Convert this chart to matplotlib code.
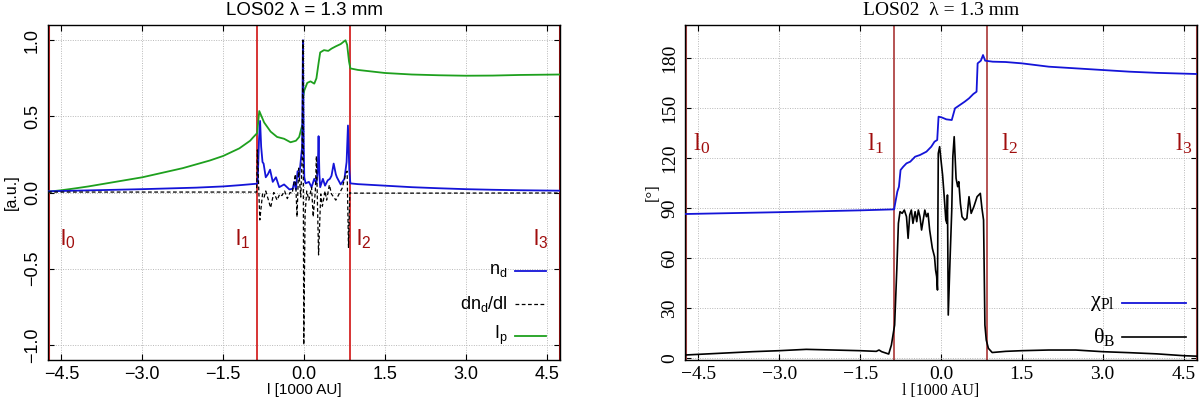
import matplotlib
matplotlib.use('Agg')
import matplotlib.pyplot as plt
from matplotlib.lines import Line2D

plt.rcParams['mathtext.default'] = 'regular'

# ---------------- data ----------------
x_limits = [-4.75, 4.75]
boundaries = [-4.75, -0.87, 0.85, 4.75]          # l0, l1, l2, l3
boundary_labels = ['l$_0$', 'l$_1$', 'l$_2$', 'l$_3$']
x_ticks = [-4.5, -3.0, -1.5, 0.0, 1.5, 3.0, 4.5]
x_tick_labels = ['\u22124.5', '\u22123.0', '\u22121.5', '0.0', '1.5', '3.0', '4.5']
left_yticks = [-1.0, -0.5, 0.0, 0.5, 1.0]
left_ytick_labels = ['\u22121.0', '\u22120.5', '0.0', '0.5', '1.0']
right_yticks = [0, 30, 60, 90, 120, 150, 180]
right_ytick_labels = ['0', '30', '60', '90', '120', '150', '180']

# n_d (blue)
nd_x = [-4.75, -4.0, -3.0, -2.0, -1.5, -1.2, -0.87, -0.86, -0.835, -0.815, -0.795, -0.77,
        -0.75, -0.71, -0.67, -0.63, -0.58, -0.52, -0.46, -0.37, -0.27, -0.21, -0.18,
        -0.15, -0.12, -0.09, -0.055, -0.035, -0.02, -0.005, 0.005, 0.03, 0.09, 0.14,
        0.19, 0.23, 0.255, 0.27, 0.285, 0.30, 0.35, 0.39, 0.44, 0.48, 0.51, 0.55,
        0.59, 0.61, 0.68, 0.75, 0.79, 0.815, 0.84, 0.86, 1.0, 1.5, 2.0, 2.5, 3.0,
        3.5, 4.0, 4.75]
nd_y = [0.008, 0.014, 0.022, 0.032, 0.040, 0.048, 0.058, 0.065, 0.35, 0.47, 0.30, 0.20,
        0.19, 0.10, 0.12, 0.15, 0.07, 0.10, 0.035, 0.053, 0.02, 0.025, 0.07,
        0.02, 0.14, 0.10, 0.23, 0.30, 1.0, 0.30, 0.10, 0.06, 0.07, 0.035,
        0.09, 0.06, 0.15, 0.37, 0.12, 0.035, 0.09, 0.045, 0.08, 0.09, 0.11, 0.19,
        0.12, 0.10, 0.053, 0.09, 0.20, 0.44, 0.15, 0.06, 0.055, 0.045, 0.035, 0.028, 0.022,
        0.018, 0.015, 0.012]

# dn_d/dl (black dashed)
dndl_x = [-4.75, -2.0, -0.88, -0.865, -0.82, -0.77, -0.74, -0.71, -0.66, -0.62, -0.56,
          -0.50, -0.45, -0.41, -0.36, -0.31, -0.26, -0.22, -0.16, -0.13, -0.10, -0.06,
          -0.035, -0.02, -0.005, 0.02, 0.05, 0.09, 0.14, 0.17, 0.21, 0.23, 0.27, 0.31,
          0.34, 0.39, 0.42, 0.47, 0.51, 0.55, 0.59, 0.65, 0.71, 0.77, 0.80, 0.825,
          0.85, 0.87, 2.0, 4.75]
dndl_y = [0.003, 0.003, 0.003, 0.28, -0.18, -0.01, -0.03, 0.01, -0.05, -0.10, 0.0,
          -0.05, -0.01, -0.02, 0.01, -0.04, 0.0, -0.005, 0.12, -0.16, 0.16, -0.03,
          0.23, 1.0, -1.0, -0.14, 0.01, -0.05, 0.035, -0.16, 0.01, 0.24, -0.41, -0.01,
          -0.09, 0.01, -0.05, 0.05, -0.01, -0.03, -0.05, -0.01, 0.03, 0.12, 0.14, -0.36,
          0.0, -0.004, -0.004, -0.003]

# I_p (green)
ip_x = [-4.75, -4.5, -4.25, -4.0, -3.75, -3.5, -3.25, -3.0, -2.75, -2.5, -2.25, -2.0,
        -1.75, -1.5, -1.35, -1.2, -1.1, -1.0, -0.95, -0.87, -0.83,
        -0.74, -0.62, -0.5, -0.37, -0.25, -0.15, -0.09, -0.05, -0.025, -0.015, 0.005,
        0.06, 0.12, 0.19, 0.23, 0.27, 0.30, 0.37, 0.45, 0.51, 0.59, 0.68, 0.77, 0.80,
        0.835, 0.86, 1.0, 1.5, 2.0, 2.5, 3.0, 3.5, 4.0, 4.75]
ip_y = [0.005, 0.015, 0.027, 0.04, 0.055, 0.07, 0.085, 0.10, 0.12, 0.14, 0.16, 0.185,
        0.21, 0.24, 0.265, 0.29, 0.315, 0.34, 0.36, 0.39, 0.535,
        0.46, 0.40, 0.365, 0.353, 0.33, 0.34, 0.365, 0.42, 0.45, 0.63, 0.67,
        0.72, 0.73, 0.715, 0.75, 0.85, 0.92, 0.935, 0.93, 0.945, 0.96, 0.975, 1.0, 0.97,
        0.86, 0.815, 0.805, 0.785, 0.775, 0.77, 0.767, 0.768, 0.772, 0.775]

# chi_Pl (blue, degrees)
chi_x = [-4.75, -3.0, -1.5, -0.87, -0.81, -0.78, -0.75, -0.70, -0.64, -0.57, -0.48,
         -0.39, -0.27, -0.18, -0.12, -0.07, -0.045, 0.01, 0.10, 0.20, 0.26, 0.35, 0.44,
         0.52, 0.60, 0.66, 0.68, 0.74, 0.78, 0.82, 0.96, 1.2, 1.5, 2.0, 2.5, 3.0, 3.5,
         4.0, 4.75]
chi_y = [86.6, 87.7, 88.8, 89.4, 100, 103, 113, 115, 117, 118, 121,
         122, 124, 127, 130, 131, 145, 144.6, 143.4, 143, 150, 152, 154,
         156, 158.6, 160, 177, 178.6, 182, 178.6, 178, 177.8, 177, 175, 174, 173, 172,
         171.3, 170.6]

# theta_B (black, degrees)
theta_x = [-4.75, -4.5, -4.0, -3.5, -3.0, -2.5, -2.0, -1.5, -1.2, -1.15, -1.1, -0.97,
           -0.92, -0.88, -0.86, -0.82, -0.79, -0.76, -0.72, -0.68, -0.64, -0.61, -0.58,
           -0.55, -0.52, -0.48, -0.45, -0.42, -0.39, -0.36, -0.30, -0.27, -0.24, -0.21,
           -0.16, -0.12, -0.10, -0.08, -0.065, -0.05, -0.025, 0.0, 0.03, 0.06, 0.09,
           0.11, 0.12, 0.135, 0.17, 0.20, 0.22, 0.245, 0.28, 0.31, 0.33, 0.36, 0.39,
           0.44, 0.48, 0.52, 0.56, 0.61, 0.67, 0.73, 0.76, 0.79, 0.815, 0.84, 0.88,
           0.95, 1.2, 1.5, 2.0, 2.5, 3.0, 3.5, 4.0, 4.5, 4.75]
theta_y = [2.0, 2.4, 3.2, 4.0, 4.6, 5.4, 5.0, 4.6, 4.2, 5.0, 4.0, 2.6,
           8, 16, 20, 53, 81, 88, 87, 89, 85, 72, 86,
           89, 81, 88, 82, 89, 85, 77, 89, 85, 87, 77,
           66, 61, 53, 49, 41, 123, 127, 119, 110, 97, 83,
           81, 98, 26, 61, 89, 121, 133, 108, 103, 106, 93, 85,
           83, 84, 97, 87, 91, 97, 99, 90, 83, 20, 11, 6,
           3.5, 4.2, 4.6, 5.0, 5.0, 4.0, 3.4, 2.7, 1.6, 1.3]

# ---------------- styling ----------------
BLUE = '#1414d8'
GREEN = '#1ea01e'
LABEL_RED = '#a00d0d'

fig = plt.figure(figsize=(12, 3.99), dpi=100)
axL = fig.add_axes([0.04, 0.0977, 0.4267, 0.8396])
axR = fig.add_axes([0.5708, 0.0977, 0.4267, 0.8396])


def style_axes(ax, family, tick_size, yticks, ytick_labels, ylim):
    ax.set_xlim(*x_limits)
    ax.set_ylim(*ylim)
    ax.set_xticks(x_ticks)
    ax.set_xticklabels(x_tick_labels, family=family, fontsize=tick_size)
    ax.set_yticks(yticks)
    ax.set_yticklabels(ytick_labels, family=family, fontsize=tick_size,
                       rotation=90, va='center', ha='right')
    ax.tick_params(direction='in', top=True, right=True, length=4, width=0.8,
                   colors='black')
    ax.tick_params(axis='x', pad=4)
    ax.tick_params(axis='y', pad=5)
    ax.grid(True, color='#b8b8b8', linestyle=(0, (1, 1.5)), linewidth=0.7)
    ax.set_axisbelow(True)
    for s in ax.spines.values():
        s.set_linewidth(1.0)
        s.set_color('black')


# ---------- left panel ----------
fL = 'Liberation Sans'
style_axes(axL, fL, 13, left_yticks, left_ytick_labels, (-1.1, 1.1))
for i, b in enumerate(boundaries):
    c = '#d42424' if i < 3 else '#9a1010'
    axL.axvline(b, color=c, lw=1.3 if i in (1, 2) else 2.2, zorder=1.5)
axL.plot(ip_x, ip_y, color=GREEN, lw=1.3, zorder=3)
axL.plot(nd_x, nd_y, color=BLUE, lw=1.3, zorder=4)
axL.plot(dndl_x, dndl_y, color='black', lw=0.9, ls=(0, (3, 2)), zorder=5)

lab_y_L = -0.345
axL.text(-4.52, lab_y_L, boundary_labels[0], color=LABEL_RED, fontsize=16, family=fL, ha='left', va='baseline')
axL.text(-1.01, lab_y_L, boundary_labels[1], color=LABEL_RED, fontsize=16, family=fL, ha='right', va='baseline')
axL.text(0.97, lab_y_L, boundary_labels[2], color=LABEL_RED, fontsize=16, family=fL, ha='left', va='baseline')
axL.text(4.53, lab_y_L, boundary_labels[3], color=LABEL_RED, fontsize=16, family=fL, ha='right', va='baseline')

axL.set_title('LOS02 \u03bb = 1.3 mm', family=fL, fontsize=13.5, pad=7)
axL.set_xlabel('l [1000 AU]', family=fL, fontsize=11, labelpad=0.5)
axL.set_ylabel('[a.u.]', family=fL, fontsize=11.5, labelpad=4)

legL = [('n$_d$', dict(color=BLUE, lw=1.3), 0.266),
        ('dn$_d$/dl', dict(color='black', lw=0.9, ls=(0, (3, 2))), 0.167),
        ('I$_p$', dict(color=GREEN, lw=1.3), 0.072)]
for txt, kw, yy in legL:
    axL.text(0.898, yy, txt, transform=axL.transAxes, ha='right', va='center',
             family=fL, fontsize=13)
    axL.add_line(Line2D([0.912, 0.973], [yy, yy], transform=axL.transAxes, **kw))

# ---------- right panel ----------
fR = 'Liberation Serif'
style_axes(axR, fR, 14, right_yticks, right_ytick_labels, (-1, 200))
for i, b in enumerate(boundaries):
    axR.axvline(b, color='#b04545', lw=1.3 if i in (1, 2) else 2.2, zorder=1.5)
axR.plot(chi_x, chi_y, color=BLUE, lw=1.3, zorder=4)
axR.plot(theta_x, theta_y, color='black', lw=1.2, zorder=3)

lab_y_R = 125
axR.text(-4.6, lab_y_R, boundary_labels[0], color=LABEL_RED, fontsize=18, family=fR, ha='left', va='baseline')
axR.text(-1.05, lab_y_R, boundary_labels[1], color=LABEL_RED, fontsize=18, family=fR, ha='right', va='baseline')
axR.text(1.12, lab_y_R, boundary_labels[2], color=LABEL_RED, fontsize=18, family=fR, ha='left', va='baseline')
axR.text(4.66, lab_y_R, boundary_labels[3], color=LABEL_RED, fontsize=18, family=fR, ha='right', va='baseline')

axR.set_title('LOS02  \u03bb = 1.3 mm', family=fR, fontsize=14, pad=7)
axR.set_xlabel('l [1000 AU]', family=fR, fontsize=11.5, labelpad=0.5)
axR.set_ylabel('[\u00b0]', family=fR, fontsize=12, labelpad=0)

legR = [('\u03c7$_{Pl}$', dict(color=BLUE, lw=1.3), 0.17),
        ('\u03b8$_B$', dict(color='black', lw=1.2), 0.069)]
for txt, kw, yy in legR:
    axR.text(0.84, yy, txt, transform=axR.transAxes, ha='right', va='center',
             family=fR, fontsize=16)
    axR.add_line(Line2D([0.854, 0.979], [yy, yy], transform=axR.transAxes, **kw))

fig.savefig('out.png', dpi=100)
